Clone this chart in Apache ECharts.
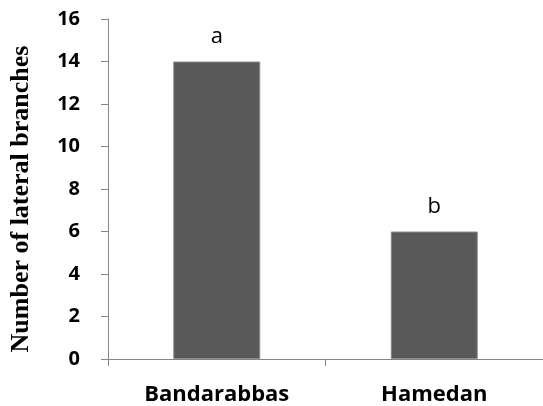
<!DOCTYPE html>
<html>
<head>
<meta charset="utf-8">
<script src="https://cdn.jsdelivr.net/npm/echarts@6/dist/echarts.min.js"></script>
<style>
    html, body { margin: 0; padding: 0; background: #fff; }
    #main { width: 543px; height: 406px; }
</style>
</head>
<body>
<div id="main"></div>
<script>
    // 数据
    var categories = ['Bandarabbas', 'Hamedan'];
    var branches = [14, 6];
    var letters = ['a', 'b'];
    var yTicks = { min: 0, max: 16, step: 2 };

    var axisGray = '#868686';

    var option = {
        animation: false,
        grid: {
            left: 105,
            right: -4,
            top: 19,
            bottom: 47
        },
        xAxis: {
            type: 'category',
            data: categories,
            axisLine: { lineStyle: { color: axisGray, width: 1 } },
            axisTick: { show: true, alignWithLabel: false, length: 7, lineStyle: { color: axisGray } },
            axisLabel: {
                margin: 25,
                color: '#000',
                fontFamily: 'Open Sans',
                fontWeight: 'bold',
                fontSize: 22
            },
            splitLine: { show: false }
        },
        yAxis: {
            type: 'value',
            min: yTicks.min,
            max: yTicks.max,
            interval: yTicks.step,
            name: 'Number of lateral branches',
            nameLocation: 'middle',
            nameGap: 74,
            nameTextStyle: {
                color: '#000',
                fontFamily: 'Liberation Serif',
                fontWeight: 'bold',
                fontSize: 26,
                padding: [0, 20, 0, 0] // 标题整体下移一点
            },
            axisLine: { show: true, lineStyle: { color: axisGray, width: 1 } },
            axisTick: { show: true, length: 7, lineStyle: { color: axisGray } },
            axisLabel: {
                margin: 28,
                color: '#000',
                fontFamily: 'Open Sans',
                fontWeight: 'bold',
                fontSize: 20
            },
            splitLine: { show: false }
        },
        series: [{
            type: 'bar',
            data: branches,
            barWidth: '40%',
            itemStyle: {
                color: '#595959',
                borderColor: '#8c8c8c',
                borderWidth: 1
            },
            label: {
                show: true,
                position: 'top',
                distance: 14,
                color: '#000',
                fontFamily: 'Open Sans',
                fontSize: 22,
                formatter: function (p) {
                    return letters[p.dataIndex];
                }
            }
        }]
    };

    var myChart = echarts.init(document.getElementById('main'));
    myChart.setOption(option);
</script>
</body>
</html>
